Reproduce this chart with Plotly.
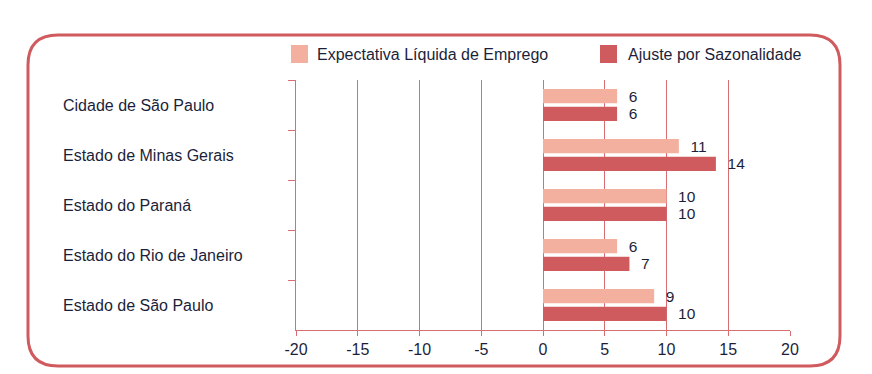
import plotly.graph_objects as go

categories = ["Cidade de São Paulo", "Estado de Minas Gerais", "Estado do Paraná",
              "Estado do Rio de Janeiro", "Estado de São Paulo"]
series_names = ["Expectativa Líquida de Emprego", "Ajuste por Sazonalidade"]
expectativa = [6, 11, 10, 6, 9]
ajuste = [6, 14, 10, 7, 10]
x_ticks = [-20, -15, -10, -5, 0, 5, 10, 15, 20]

LIGHT = "#F3B09F"
DARK = "#D05B5E"
RED = "#D66E73"
TXT = "#1c1f3a"
FONT = "Liberation Sans, Arial, sans-serif"

OFF = 8  # page body margin
W, H = 872 - OFF, 374 - OFF
L, R, T, B = 296 - OFF, 82, 80 - OFF, 44
PW, PH = W - L - R, H - T - B

def px(x):
    return (x - OFF - L) / PW

def py(y):
    return (H - B - (y - OFF)) / PH

fig = go.Figure()
for name, vals, col in [(series_names[0], expectativa, LIGHT), (series_names[1], ajuste, DARK)]:
    fig.add_trace(go.Bar(
        y=categories, x=vals, orientation="h", name=name,
        marker=dict(color=col, line=dict(width=0)),
        text=vals, texttemplate="  %{x}", textposition="outside",
        constraintext="none",
        textfont=dict(family=FONT, size=15.5, color=TXT),
        cliponaxis=False, showlegend=False,
    ))

annotations = []
for c in categories:
    annotations.append(dict(xref="paper", yref="y", x=px(61), y=c, text=c,
                            xanchor="left", yanchor="middle", showarrow=False,
                            font=dict(family=FONT, size=16, color=TXT)))

shapes = []
leg = [(series_names[0], LIGHT, 291, 315), (series_names[1], DARK, 600, 626)]
for name, col, sx, tx in leg:
    shapes.append(dict(type="rect", xref="paper", yref="paper",
                       x0=px(sx), x1=px(sx + 17), y0=py(63), y1=py(45),
                       fillcolor=col, line=dict(width=0), layer="above"))
    annotations.append(dict(xref="paper", yref="paper", x=px(tx), y=py(54.5), text=name,
                            xanchor="left", yanchor="middle", showarrow=False,
                            font=dict(family=FONT, size=16, color=TXT)))

x0, x1, y0, y1, r = 28, 840, 35, 366, 30
path = (f"M {px(x0 + r)},{py(y0)} L {px(x1 - r)},{py(y0)} "
        f"Q {px(x1)},{py(y0)} {px(x1)},{py(y0 + r)} "
        f"L {px(x1)},{py(y1 - r)} Q {px(x1)},{py(y1)} {px(x1 - r)},{py(y1)} "
        f"L {px(x0 + r)},{py(y1)} Q {px(x0)},{py(y1)} {px(x0)},{py(y1 - r)} "
        f"L {px(x0)},{py(y0 + r)} Q {px(x0)},{py(y0)} {px(x0 + r)},{py(y0)} Z")
shapes.append(dict(type="path", xref="paper", yref="paper", path=path,
                   line=dict(color=DARK, width=3), layer="below"))

fig.update_layout(
    width=W, height=H,
    margin=dict(l=L, r=R, t=T, b=B, pad=0),
    paper_bgcolor="white", plot_bgcolor="white",
    barmode="group", bargap=0.29, bargroupgap=0.2,
    font=dict(family=FONT, size=16, color=TXT),
    shapes=shapes, annotations=annotations,
    xaxis=dict(range=[-20, 20], tickvals=x_ticks, ticktext=[str(v) for v in x_ticks],
               showgrid=True, gridcolor=RED, gridwidth=1.2,
               zeroline=True, zerolinecolor=RED, zerolinewidth=1.2,
               showline=True, linecolor=RED, linewidth=1.2,
               ticks="outside", ticklen=5, tickcolor=RED, tickwidth=1.2,
               tickfont=dict(family=FONT, size=16, color=TXT), fixedrange=True),
    yaxis=dict(type="category", autorange="reversed", showticklabels=False,
               showgrid=False, zeroline=False,
               showline=True, linecolor=RED, linewidth=1.2,
               ticks="outside", tickson="boundaries", ticklen=7,
               tickcolor=RED, tickwidth=1.2, fixedrange=True),
)

fig.write_html("out.html")
